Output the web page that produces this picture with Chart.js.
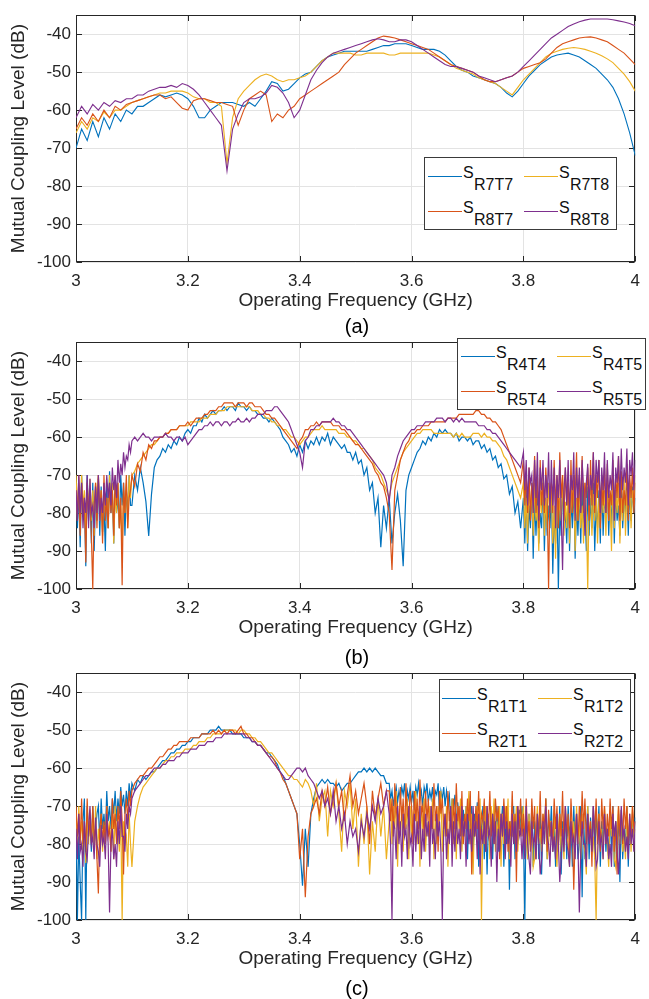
<!DOCTYPE html>
<html><head><meta charset="utf-8">
<script src="https://cdn.jsdelivr.net/npm/chart.js@4.4.1/dist/chart.umd.min.js"></script>
<style>
html,body{margin:0;padding:0;background:#fff;}
body{width:649px;height:999px;position:relative;overflow:hidden;font-family:"Liberation Sans",Arial,sans-serif;color:#262626;}
.cv{position:absolute;left:0;width:649px;height:320px;}
.lab{position:absolute;width:80px;text-align:center;font-family:"Liberation Sans",Arial,sans-serif;font-size:20px;line-height:20px;color:#000;}
.leg{position:absolute;border:1px solid #3a3a3a;background:#fff;box-sizing:border-box;}
.it{position:absolute;width:1px;height:1px;}
.it .ln{position:absolute;left:0;top:0;width:34px;height:1px;}
.it .s{position:absolute;left:35px;top:-11px;font-size:16px;line-height:16px;white-space:nowrap;color:#111;}
.it .sub{position:absolute;left:46px;top:1px;font-size:16px;line-height:16px;white-space:nowrap;color:#111;}
</style></head><body>
<div class="cv" style="top:0"><canvas id="ca" width="649" height="320"></canvas></div>
<div class="cv" style="top:327px"><canvas id="cb" width="649" height="320"></canvas></div>
<div class="cv" style="top:658px"><canvas id="cc" width="649" height="320"></canvas></div>
<div class="lab" style="left:317px;top:316px">(a)</div>
<div class="lab" style="left:317px;top:647px">(b)</div>
<div class="lab" style="left:317px;top:978px">(c)</div>
<script>
// ---------- DATA ----------
const xTicksGHz = [3, 3.2, 3.4, 3.6, 3.8, 4];
const yTicksDB = [-100, -90, -80, -70, -60, -50, -40];

// Panel (a): frequency grid (GHz)
const freqA = [
3,3.01,3.02,3.03,3.04,3.05,3.06,3.07,3.08,3.09,
3.1,3.11,3.12,3.13,3.14,3.15,3.16,3.17,3.18,3.19,
3.2,3.21,3.22,3.23,3.24,3.25,3.26,3.27,3.28,3.29,
3.3,3.31,3.32,3.33,3.34,3.35,3.36,3.37,3.38,3.39,
3.4,3.41,3.42,3.43,3.44,3.45,3.46,3.47,3.48,3.49,
3.5,3.51,3.52,3.53,3.54,3.55,3.56,3.57,3.58,3.59,
3.6,3.61,3.62,3.63,3.64,3.65,3.66,3.67,3.68,3.69,
3.7,3.71,3.72,3.73,3.74,3.75,3.76,3.77,3.78,3.79,
3.8,3.81,3.82,3.83,3.84,3.85,3.86,3.87,3.88,3.89,
3.9,3.91,3.92,3.93,3.94,3.95,3.96,3.97,3.98,3.99,
4];
const labelsA = ["R7T7","R7T8","R8T7","R8T8"];
const sR7T7 = [
-70,-65,-68,-63,-67,-62,-65,-61,-63,-60,
-61,-59,-59,-58,-57,-56,-56.5,-56,-55.5,-56,
-57,-59,-62,-62,-60,-59,-58,-58,-58,-58.5,
-59,-58,-59,-57,-55,-52.5,-53,-55,-54.5,-53,
-51.5,-50.5,-50,-48.5,-47,-46,-45.5,-45,-44.5,-44.5,
-44.5,-44.5,-44.5,-44,-43.5,-43,-43,-42.5,-42.5,-42.5,
-43,-43.5,-44,-44,-44,-44.5,-45.5,-47,-48.5,-49.5,
-50,-51,-51.5,-52,-52.5,-53,-54,-55.5,-56.5,-55,
-53,-51,-49.5,-48,-47,-46,-45.5,-45.2,-45,-45.5,
-46,-47,-48,-49,-50.5,-52,-54,-57,-61,-66,
-72];
const sR7T8 = [
-66,-63,-65,-62,-63,-60.5,-62,-60,-60,-59,
-58,-57.5,-57,-56.5,-56,-55.5,-55.5,-55,-55,-55,
-55.5,-56.5,-57,-57,-58,-58,-59,-74,-62,-57,
-55,-53.5,-52,-51,-50.5,-51,-52,-52.5,-52,-52,
-51.5,-51,-50,-48.5,-47,-46,-45,-45,-45,-45,
-45.5,-45.5,-45,-45,-45,-45,-45.5,-45.5,-45,-45,
-45,-45,-45,-45,-45.5,-46,-47,-48,-49,-49.5,
-50,-50.5,-51.5,-52,-52.5,-53,-54,-55,-56,-54,
-52,-50.5,-49,-47.5,-46,-45,-44.5,-44,-43.7,-43.5,
-43.7,-44,-44.5,-45,-45.7,-46.5,-47.5,-49,-50.5,-52.5,
-55];
const sR8T7 = [
-65,-62,-64,-61,-63,-60,-62,-59,-60,-58.5,
-58,-57.5,-57,-56.5,-56,-56,-57,-56.5,-58,-59.5,
-60,-57.5,-57,-57,-57.5,-58,-58,-58.5,-59,-64,
-60,-57,-56,-55,-56,-63,-61,-62,-60,-59,
-57,-56,-55,-54,-53,-52,-51,-50,-48,-46.5,
-45,-44,-43,-42,-41,-40.5,-40.7,-41,-41.5,-42,
-42.5,-43,-43.5,-44,-45,-46,-47,-48,-48.5,-49,
-49.5,-50,-51,-52,-52.5,-52.5,-52,-51.5,-51,-50,
-49,-48.5,-48,-47.5,-46.5,-45,-43.5,-42.5,-42,-41.5,
-41,-40.8,-40.7,-41,-41.5,-42,-43,-44,-45,-46.5,
-48];
const sR8T8 = [
-62,-59,-61,-58.5,-60,-58,-59,-57.5,-58,-57,
-57,-56,-56,-55,-54.5,-54,-54,-53.5,-54,-53,
-53.5,-54.5,-56,-58,-60,-62,-64,-76,-65,-61,
-58,-57,-57,-56.5,-55.5,-53.5,-54,-55.5,-58,-62,
-60,-56,-52,-49.5,-47.5,-46,-45,-44.5,-44,-43.5,
-43,-42.5,-42,-41.5,-41.2,-41.5,-42,-42,-41.5,-41.5,
-42,-43,-44,-45,-46,-47,-48,-48.5,-48.5,-49,
-49.5,-50,-51,-51.5,-52,-52.5,-52,-51.5,-51,-50,
-48.5,-47,-45.5,-44,-42.5,-41,-40,-39,-38,-37.3,
-36.7,-36.3,-36,-36,-36,-36,-36.2,-36.5,-36.8,-37.2,
-37.8];

// Panel (b): frequency grid (GHz), finer where the traces are noisy
const freqB = [
3,3.0025,3.005,3.0075,3.01,3.0125,3.015,3.0175,3.02,3.0225,
3.025,3.0275,3.03,3.0325,3.035,3.0375,3.04,3.0425,3.045,3.0475,
3.05,3.0525,3.055,3.0575,3.06,3.0625,3.065,3.0675,3.07,3.0725,
3.075,3.0775,3.08,3.0825,3.085,3.0875,3.09,3.0925,3.095,3.0975,
3.1,3.105,3.11,3.115,3.12,3.125,3.13,3.135,3.14,3.145,
3.15,3.155,3.16,3.165,3.17,3.175,3.18,3.185,3.19,3.195,
3.2,3.205,3.21,3.215,3.22,3.225,3.23,3.235,3.24,3.245,
3.25,3.255,3.26,3.265,3.27,3.275,3.28,3.285,3.29,3.295,
3.3,3.305,3.31,3.315,3.32,3.325,3.33,3.335,3.34,3.345,
3.35,3.355,3.36,3.365,3.37,3.375,3.38,3.385,3.39,3.395,
3.4,3.405,3.41,3.415,3.42,3.425,3.43,3.435,3.44,3.445,
3.45,3.455,3.46,3.465,3.47,3.475,3.48,3.485,3.49,3.495,
3.5,3.505,3.51,3.515,3.52,3.525,3.53,3.535,3.54,3.545,
3.55,3.555,3.56,3.565,3.57,3.575,3.58,3.585,3.59,3.595,
3.6,3.605,3.61,3.615,3.62,3.625,3.63,3.635,3.64,3.645,
3.65,3.655,3.66,3.665,3.67,3.675,3.68,3.685,3.69,3.695,
3.7,3.705,3.71,3.715,3.72,3.725,3.73,3.735,3.74,3.745,
3.75,3.755,3.76,3.765,3.77,3.775,3.78,3.785,3.79,3.795,
3.8,3.8025,3.805,3.8075,3.81,3.8125,3.815,3.8175,3.82,3.8225,
3.825,3.8275,3.83,3.8325,3.835,3.8375,3.84,3.8425,3.845,3.8475,
3.85,3.8525,3.855,3.8575,3.86,3.8625,3.865,3.8675,3.87,3.8725,
3.875,3.8775,3.88,3.8825,3.885,3.8875,3.89,3.8925,3.895,3.8975,
3.9,3.9025,3.905,3.9075,3.91,3.9125,3.915,3.9175,3.92,3.9225,
3.925,3.9275,3.93,3.9325,3.935,3.9375,3.94,3.9425,3.945,3.9475,
3.95,3.9525,3.955,3.9575,3.96,3.9625,3.965,3.9675,3.97,3.9725,
3.975,3.9775,3.98,3.9825,3.985,3.9875,3.99,3.9925,3.995,3.9975,
4];

// Panel (c): frequency grid (GHz), finer where the traces are noisy
const freqC = [
3,3.0025,3.005,3.0075,3.01,3.0125,3.015,3.0175,3.02,3.0225,
3.025,3.0275,3.03,3.0325,3.035,3.0375,3.04,3.0425,3.045,3.0475,
3.05,3.0525,3.055,3.0575,3.06,3.0625,3.065,3.0675,3.07,3.0725,
3.075,3.0775,3.08,3.0825,3.085,3.0875,3.09,3.0925,3.095,3.0975,
3.1,3.105,3.11,3.115,3.12,3.125,3.13,3.135,3.14,3.145,
3.15,3.155,3.16,3.165,3.17,3.175,3.18,3.185,3.19,3.195,
3.2,3.205,3.21,3.215,3.22,3.225,3.23,3.235,3.24,3.245,
3.25,3.255,3.26,3.265,3.27,3.275,3.28,3.285,3.29,3.295,
3.3,3.305,3.31,3.315,3.32,3.325,3.33,3.335,3.34,3.345,
3.35,3.355,3.36,3.365,3.37,3.375,3.38,3.385,3.39,3.395,
3.4,3.405,3.41,3.415,3.42,3.425,3.43,3.435,3.44,3.445,
3.45,3.455,3.46,3.465,3.47,3.475,3.48,3.485,3.49,3.495,
3.5,3.505,3.51,3.515,3.52,3.525,3.53,3.535,3.54,3.545,
3.55,3.555,
3.56,3.5625,3.565,3.5675,3.57,3.5725,3.575,3.5775,3.58,3.5825,
3.585,3.5875,3.59,3.5925,3.595,3.5975,3.6,3.6025,3.605,3.6075,
3.61,3.6125,3.615,3.6175,3.62,3.6225,3.625,3.6275,3.63,3.6325,
3.635,3.6375,3.64,3.6425,3.645,3.6475,3.65,3.6525,3.655,3.6575,
3.66,3.6625,3.665,3.6675,3.67,3.6725,3.675,3.6775,3.68,3.6825,
3.685,3.6875,3.69,3.6925,3.695,3.6975,3.7,3.7025,3.705,3.7075,
3.71,3.7125,3.715,3.7175,3.72,3.7225,3.725,3.7275,3.73,3.7325,
3.735,3.7375,3.74,3.7425,3.745,3.7475,3.75,3.7525,3.755,3.7575,
3.76,3.7625,3.765,3.7675,3.77,3.7725,3.775,3.7775,3.78,3.7825,
3.785,3.7875,3.79,3.7925,3.795,3.7975,
3.8,3.8025,3.805,3.8075,3.81,3.8125,3.815,3.8175,3.82,3.8225,
3.825,3.8275,3.83,3.8325,3.835,3.8375,3.84,3.8425,3.845,3.8475,
3.85,3.8525,3.855,3.8575,3.86,3.8625,3.865,3.8675,3.87,3.8725,
3.875,3.8775,3.88,3.8825,3.885,3.8875,3.89,3.8925,3.895,3.8975,
3.9,3.9025,3.905,3.9075,3.91,3.9125,3.915,3.9175,3.92,3.9225,
3.925,3.9275,3.93,3.9325,3.935,3.9375,3.94,3.9425,3.945,3.9475,
3.95,3.9525,3.955,3.9575,3.96,3.9625,3.965,3.9675,3.97,3.9725,
3.975,3.9775,3.98,3.9825,3.985,3.9875,3.99,3.9925,3.995,3.9975,
4];

// Panel (b)
const labelsB = ["R4T4","R4T5","R5T4","R5T5"];
const sR4T4 = [
-72,-84,-74,-89,-70,-80,-76,-94,-70,-82,
-74,-88,-72,-90,-75,-82,-71,-86,-73,-85,
-78,-90,-72,-84,-69,-80,-74,-88,-72,-80,
-76,-84,-70,-78,-72,-86,-74,-80,-70,-78,
-78,-70,-74,-68,-72,-77,-86,-75,-68,-66,
-65,-63,-64,-62,-63,-61,-62,-60,-61,-59,
-58,-59,-57,-57,-55,-56,-54,-55,-54,-53,
-54,-53,-53,-52,-53,-52,-52,-53,-51,-52,
-52,-53,-52,-53,-53,-54,-54,-55,-55,-56,
-55,-56,-57,-58,-60,-61,-62,-64,-63,-65,
-62,-64,-61,-63,-61,-62,-60,-62,-60,-61,
-59,-62,-60,-61,-62,-63,-62,-64,-64,-66,
-64,-67,-66,-70,-68,-74,-72,-80,-76,-89,
-78,-84,-76,-88,-80,-75,-82,-94,-74,-70,
-68,-66,-64,-63,-61,-62,-60,-61,-59,-60,
-58,-59,-58,-59,-59,-60,-59,-61,-60,-60,
-61,-60,-62,-61,-61,-63,-62,-64,-63,-66,
-65,-68,-67,-71,-70,-75,-73,-80,-77,-84,
-76,-88,-74,-90,-78,-84,-72,-92,-76,-86,
-74,-88,-80,-84,-72,-90,-76,-86,-78,-84,
-74,-96,-80,-88,-76,-100,-78,-86,-72,-84,
-80,-88,-74,-90,-76,-84,-72,-92,-78,-86,
-74,-88,-72,-84,-78,-90,-73,-86,-76,-84,
-72,-90,-78,-84,-74,-88,-70,-86,-76,-80,
-72,-86,-75,-84,-70,-88,-74,-82,-78,-86,
-71,-84,-76,-80,-72,-86,-74,-82,-73,-80,
-76];
const sR4T5 = [
-70,-80,-72,-84,-70,-78,-74,-84,-72,-80,
-71,-82,-74,-86,-72,-76,-70,-82,-74,-86,
-72,-80,-76,-84,-70,-78,-72,-88,-75,-80,
-72,-84,-78,-90,-74,-80,-72,-84,-70,-76,
-70,-69,-67,-66,-65,-64,-63,-62,-62,-61,
-60,-60,-59,-59,-58,-58,-58,-57,-57,-57,
-57,-56,-56,-56,-56,-55,-55,-55,-54,-54,
-54,-53,-53,-53,-52,-52,-52,-52,-52,-52,
-52,-52,-52,-53,-53,-53,-54,-54,-55,-55,
-56,-56,-57,-57,-58,-58,-59,-60,-60,-61,
-62,-61,-60,-60,-59,-58,-58,-58,-57,-58,
-58,-58,-58,-58,-59,-59,-59,-60,-60,-61,
-61,-62,-63,-63,-64,-65,-66,-68,-69,-70,
-72,-74,-76,-72,-70,-68,-66,-64,-63,-62,
-61,-60,-59,-59,-58,-58,-58,-58,-59,-59,
-59,-59,-59,-59,-59,-60,-59,-60,-59,-60,
-60,-60,-59,-59,-59,-60,-59,-60,-60,-61,
-61,-62,-63,-65,-66,-68,-70,-72,-74,-76,
-72,-84,-76,-88,-70,-80,-74,-86,-72,-82,
-78,-90,-74,-80,-70,-86,-76,-84,-72,-80,
-74,-88,-78,-92,-72,-84,-76,-82,-70,-86,
-77,-84,-72,-88,-74,-80,-70,-90,-76,-82,
-74,-84,-78,-88,-72,-80,-100,-76,-73,-86,
-75,-82,-72,-88,-76,-84,-70,-80,-74,-86,
-72,-82,-76,-90,-70,-84,-74,-80,-72,-88,
-76,-82,-70,-86,-74,-80,-72,-84,-74,-78,
-70];
const sR5T4 = [
-74,-82,-70,-86,-72,-80,-76,-93,-72,-80,
-74,-86,-100,-78,-72,-84,-70,-80,-74,-88,
-70,-82,-76,-84,-72,-80,-74,-86,-70,-78,
-72,-84,-76,-99,-72,-80,-70,-84,-76,-74,
-70,-73,-67,-69,-64,-66,-62,-63,-61,-61,
-60,-60,-59,-59,-58,-58,-58,-57,-57,-57,
-56,-57,-56,-55,-55,-55,-54,-54,-53,-53,
-53,-52,-52,-51,-51,-51,-51,-52,-51,-51,
-51,-52,-51,-51,-52,-52,-52,-53,-54,-54,
-55,-55,-56,-57,-58,-59,-60,-61,-62,-63,
-61,-60,-58,-58,-57,-57,-56,-57,-56,-56,
-56,-56,-57,-57,-57,-58,-58,-59,-60,-61,
-62,-62,-63,-64,-65,-66,-67,-69,-70,-72,
-73,-76,-80,-95,-74,-70,-66,-64,-62,-61,
-59,-59,-58,-58,-57,-57,-57,-56,-56,-56,
-56,-56,-56,-55,-55,-55,-55,-54,-54,-54,
-54,-54,-54,-53,-53,-54,-54,-55,-55,-56,
-56,-57,-58,-60,-62,-64,-66,-68,-70,-72,
-66,-78,-70,-80,-68,-82,-72,-76,-65,-80,
-70,-84,-66,-78,-72,-80,-68,-76,-100,-74,
-72,-80,-66,-78,-70,-84,-64,-76,-70,-82,
-68,-78,-72,-84,-66,-80,-70,-76,-64,-82,
-70,-78,-65,-80,-72,-76,-68,-82,-66,-78,
-64,-80,-70,-76,-66,-84,-72,-78,-68,-80,
-67,-82,-74,-78,-66,-80,-70,-76,-65,-82,
-69,-80,-74,-78,-67,-82,-70,-76,-68,-80,
-72];
const sR5T5 = [
-74,-82,-70,-80,-72,-84,-76,-80,-70,-84,
-71,-80,-78,-84,-73,-80,-70,-82,-76,-80,
-72,-78,-70,-76,-72,-78,-68,-74,-70,-76,
-66,-72,-67,-70,-64,-68,-65,-66,-62,-64,
-61,-60,-61,-60,-59,-60,-60,-61,-60,-60,
-60,-60,-59,-60,-60,-61,-60,-60,-61,-60,
-62,-61,-60,-59,-58,-58,-57,-57,-56,-57,
-56,-56,-57,-56,-56,-57,-56,-56,-55,-56,
-56,-55,-56,-55,-55,-54,-54,-54,-53,-53,
-53,-52,-52,-53,-54,-55,-56,-58,-60,-62,
-64,-68,-61,-60,-58,-58,-57,-57,-56,-56,
-56,-56,-55,-56,-56,-57,-57,-58,-58,-59,
-60,-61,-62,-63,-64,-65,-66,-67,-68,-69,
-70,-72,-77,-70,-68,-65,-63,-61,-60,-59,
-58,-58,-57,-57,-57,-56,-56,-56,-56,-55,
-55,-55,-56,-55,-55,-56,-55,-56,-55,-56,
-56,-56,-56,-56,-57,-57,-57,-58,-58,-59,
-59,-60,-61,-62,-63,-64,-65,-66,-67,-68,
-64,-74,-66,-78,-68,-72,-70,-80,-66,-76,
-64,-82,-68,-74,-66,-78,-70,-76,-64,-80,
-66,-78,-68,-84,-70,-76,-66,-80,-95,-74,
-68,-78,-66,-80,-70,-74,-64,-82,-68,-76,
-68,-80,-66,-74,-86,-72,-67,-78,-70,-74,
-64,-78,-66,-72,-66,-80,-68,-74,-64,-80,
-66,-76,-70,-74,-64,-82,-68,-72,-65,-76,
-63,-74,-68,-72,-63,-78,-66,-70,-64,-74,
-66];

// Panel (c)
const labelsC = ["R1T1","R1T2","R2T1","R2T2"];
const sR1T1 = [
-72,-100,-78,-90,-100,-74,-68,-100,-70,-78,
-74,-82,-70,-80,-76,-72,-70,-80,-68,-76,
-72,-78,-66,-74,-70,-76,-68,-72,-66,-74,
-68,-72,-65,-70,-67,-72,-66,-70,-64,-68,
-64,-66,-63,-64,-62,-63,-62,-61,-61,-60,
-59,-58,-58,-57,-56,-56,-55,-55,-54,-54,
-53,-53,-52,-52,-52,-51,-51,-51,-50,-50,
-50,-49,-50,-50,-50,-50,-51,-51,-51,-51,
-52,-52,-52,-53,-53,-54,-54,-55,-56,-56,
-57,-58,-59,-61,-62,-64,-66,-68,-70,-72,
-80,-91,-76,-86,-72,-68,-65,-64,-63,-64,
-63,-64,-64,-65,-64,-66,-65,-64,-64,-63,
-62,-61,-61,-60,-61,-60,-61,-60,-61,-62,
-62,-64,
-64,-68,-66,-70,-67,-65,-69,-66,-68,-65,
-67,-64,-70,-66,-68,-65,-69,-66,-71,-65,
-67,-64,-68,-66,-70,-65,-67,-64,-69,-66,
-68,-65,-70,-66,-67,-64,-72,-66,-68,-65,
-70,-66,-69,-67,-74,-68,-71,-67,-76,-69,
-73,-70,-80,-71,-76,-70,-84,-72,-78,-70,
-82,-72,-76,-69,-86,-73,-78,-70,-84,-72,
-88,-74,-80,-71,-84,-72,-78,-70,-82,-73,
-76,-70,-86,-74,-80,-72,-92,-74,-78,-70,
-84,-72,-80,-71,-76,-70,
-76,-100,-70,-84,-72,-80,-70,-86,-74,-80,
-72,-84,-70,-88,-74,-80,-68,-84,-72,-78,
-70,-82,-74,-86,-72,-80,-70,-88,-74,-80,
-72,-84,-70,-78,-74,-86,-70,-80,-72,-84,
-80,-70,-94,-72,-84,-76,-70,-84,-73,-80,
-70,-84,-72,-78,-70,-86,-74,-80,-72,-82,
-76,-84,-72,-82,-70,-86,-74,-80,-72,-90,
-71,-84,-76,-80,-70,-86,-74,-80,-72,-78,
-73];
const sR1T2 = [
-72,-80,-70,-78,-74,-82,-76,-85,-72,-80,
-71,-78,-74,-82,-70,-84,-76,-80,-72,-82,
-75,-80,-70,-78,-74,-82,-72,-84,-70,-78,
-76,-82,-72,-100,-74,-80,-78,-86,-72,-80,
-86,-74,-70,-67,-65,-64,-63,-62,-61,-60,
-60,-59,-58,-58,-57,-57,-56,-56,-56,-55,
-55,-55,-54,-54,-53,-53,-53,-52,-52,-51,
-51,-51,-51,-50,-50,-50,-50,-50,-51,-50,
-50,-51,-51,-52,-52,-53,-53,-54,-55,-56,
-56,-57,-58,-59,-60,-61,-62,-62,-63,-63,
-64,-65,-63,-64,-66,-70,-64,-74,-68,-66,
-78,-66,-70,-64,-72,-82,-66,-70,-64,-76,
-68,-86,-72,-80,-70,-88,-74,-82,-68,-78,
-70,-84,
-74,-68,-80,-70,-76,-66,-86,-72,-78,-70,
-82,-72,-76,-68,-84,-70,-78,-72,-74,-66,
-80,-72,-86,-70,-76,-68,-82,-74,-78,-70,
-76,-68,-84,-72,-80,-70,-74,-66,-82,-72,
-78,-70,-86,-74,-76,-68,-80,-72,-84,-70,
-76,-68,-82,-74,-78,-70,-74,-66,-80,-72,
-88,-74,-78,-70,-76,-68,-100,-74,-80,-70,
-78,-72,-84,-70,-76,-68,-82,-74,-78,-70,
-86,-72,-80,-70,-76,-68,-84,-74,-78,-72,
-76,-70,-82,-72,-78,-74,
-70,-80,-78,-84,-72,-80,-74,-86,-84,-76,
-70,-80,-76,-82,-72,-80,-68,-84,-80,-74,
-74,-82,-71,-80,-86,-76,-72,-82,-76,-84,
-70,-78,-80,-86,-73,-80,-74,-82,-70,-78,
-76,-84,-72,-80,-82,-88,-70,-78,-74,-82,
-78,-84,-100,-76,-72,-80,-76,-84,-70,-78,
-80,-86,-72,-78,-74,-84,-86,-76,-70,-80,
-72,-82,-78,-84,-70,-78,-74,-82,-70,-78,
-76];
const sR2T1 = [
-70,-78,-72,-80,-68,-80,-74,-82,-68,-78,
-74,-80,-70,-78,-76,-84,-93,-76,-72,-80,
-74,-80,-70,-78,-76,-82,-68,-76,-72,-80,
-70,-76,-66,-74,-88,-72,-68,-74,-66,-70,
-66,-64,-63,-62,-62,-61,-60,-60,-59,-58,
-57,-57,-56,-55,-55,-54,-54,-53,-53,-53,
-53,-52,-52,-52,-52,-51,-51,-51,-51,-50,
-51,-50,-51,-50,-51,-50,-50,-51,-50,-49,
-51,-51,-52,-52,-53,-54,-54,-55,-56,-57,
-57,-58,-60,-61,-63,-64,-66,-68,-70,-72,
-84,-76,-94,-78,-72,-70,-68,-72,-66,-70,
-65,-72,-68,-64,-70,-66,-74,-67,-62,-70,
-66,-72,-68,-64,-70,-80,-66,-73,-68,-64,
-70,-66,
-66,-74,-68,-78,-64,-72,-70,-76,-65,-74,
-68,-78,-64,-72,-74,-66,-70,-80,-66,-74,
-68,-76,-63,-72,-70,-78,-66,-74,-68,-80,
-70,-76,-64,-74,-70,-82,-66,-72,-68,-76,
-72,-78,-66,-74,-70,-80,-68,-76,-64,-74,
-70,-78,-66,-80,-72,-76,-68,-74,-66,-88,
-72,-78,-70,-76,-66,-80,-72,-74,-68,-82,
-70,-76,-66,-78,-72,-80,-68,-74,-70,-84,
-72,-78,-68,-76,-70,-82,-74,-78,-66,-80,
-72,-90,-70,-76,-68,-78,
-72,-80,-68,-78,-74,-82,-68,-76,-70,-84,
-72,-78,-66,-80,-72,-76,-68,-82,-71,-78,
-74,-80,-68,-76,-70,-82,-72,-78,-66,-80,
-70,-78,-72,-84,-68,-76,-92,-78,-72,-80,
-70,-78,-66,-76,-68,-80,-72,-78,-74,-86,
-70,-78,-68,-80,-72,-82,-68,-76,-70,-80,
-72,-78,-68,-76,-70,-82,-74,-88,-70,-78,
-71,-80,-68,-76,-70,-82,-72,-78,-70,-76,
-74];
const sR2T2 = [
-76,-84,-72,-82,-80,-86,-74,-82,-84,-76,
-70,-80,-78,-84,-73,-80,-82,-86,-75,-80,
-78,-84,-72,-80,-98,-80,-76,-84,-80,-86,
-74,-80,-70,-78,-78,-82,-72,-76,-70,-72,
-68,-66,-65,-64,-63,-62,-62,-61,-60,-60,
-60,-59,-59,-58,-58,-58,-57,-57,-56,-56,
-56,-55,-55,-55,-54,-54,-54,-53,-53,-53,
-52,-52,-52,-51,-51,-51,-51,-51,-51,-51,
-51,-52,-52,-53,-53,-54,-54,-55,-56,-57,
-58,-59,-60,-61,-62,-63,-63,-62,-61,-60,
-60,-61,-60,-62,-63,-64,-66,-68,-66,-70,
-68,-72,-66,-74,-70,-76,-72,-80,-74,-78,
-76,-82,-74,-78,-72,-76,-70,-74,-68,-72,
-70,-66,
-72,-80,-100,-74,-76,-84,-70,-80,-74,-86,
-72,-78,-76,-84,-70,-80,-78,-86,-72,-82,
-74,-80,-70,-84,-76,-82,-72,-78,-74,-86,
-70,-80,-76,-84,-72,-78,-74,-82,-100,-76,
-72,-84,-76,-80,-70,-86,-74,-82,-72,-80,
-76,-84,-70,-78,-74,-86,-72,-80,-76,-82,
-70,-78,-74,-84,-72,-88,-76,-80,-74,-82,
-70,-78,-76,-86,-72,-80,-74,-90,-76,-82,
-72,-78,-70,-84,-74,-80,-76,-86,-72,-80,
-74,-82,-70,-78,-76,-84,
-76,-84,-70,-80,-84,-88,-74,-80,-78,-84,
-72,-80,-88,-84,-74,-80,-70,-78,-80,-86,
-74,-82,-78,-84,-72,-80,-90,-84,-76,-82,
-70,-80,-82,-86,-74,-80,-78,-84,-72,-80,
-98,-82,-74,-80,-80,-86,-72,-80,-76,-82,
-70,-78,-86,-84,-74,-80,-78,-84,-72,-80,
-76,-84,-80,-86,-72,-78,-74,-82,-88,-80,
-70,-78,-76,-82,-78,-84,-72,-80,-76,-82,
-74];

// ---------- STYLE ----------
const COLORS = {blue:'#0072BD', yellow:'#EDB120', red:'#D95319', purple:'#7E2F8E'};
const AX = '#262626';
const GRID = '#e3e3e3';

const framePlugin = {
  id:'frame',
  beforeDatasetsDraw(chart){
    const {ctx, chartArea:a, scales:{x,y}} = chart;
    ctx.save();
    ctx.strokeStyle = AX; ctx.lineWidth = 1;
    const L = Math.round(a.left)+0.5, R = Math.round(a.right)-0.5, T = Math.round(a.top)+0.5, B = Math.round(a.bottom)-0.5;
    const tl = 5.5;
    ctx.beginPath();
    x.ticks.forEach(t=>{const p=Math.round(x.getPixelForValue(t.value))+0.5; ctx.moveTo(p,B); ctx.lineTo(p,B-tl); ctx.moveTo(p,T); ctx.lineTo(p,T+tl);});
    y.ticks.forEach(t=>{const p=Math.round(y.getPixelForValue(t.value))+0.5; ctx.moveTo(L,p); ctx.lineTo(L+tl,p); ctx.moveTo(R,p); ctx.lineTo(R-tl,p);});
    ctx.stroke();
    ctx.strokeRect(L,T,R-L,B-T);
    ctx.restore();
  }
};

function ds(label, freq, vals, color, order, lw){
  return {label, data: freq.map((f,i)=>({x:f, y:vals[i]})), borderColor:color, backgroundColor:color,
    borderWidth:lw, pointRadius:0, fill:false, tension:0, order};
}

function makeChart(id, freq, series, lw){
  const [b,yl,r,p] = series;
  new Chart(document.getElementById(id), {
    type:'line',
    data:{datasets:[
      ds('b', freq, b, COLORS.blue, 4, lw),
      ds('y', freq, yl, COLORS.yellow, 3, lw),
      ds('r', freq, r, COLORS.red, 2, lw),
      ds('p', freq, p, COLORS.purple, 1, lw)
    ]},
    options:{
      responsive:false, animation:false, events:[],
      layout:{padding:{top:13,right:9,left:0,bottom:0}},
      plugins:{legend:{display:false}, tooltip:{enabled:false}},
      scales:{
        x:{type:'linear', min:3, max:4,
          afterBuildTicks(s){ s.ticks = xTicksGHz.map(v=>({value:v})); },
          ticks:{autoSkip:false, maxRotation:0, padding:9, color:AX,
            font:{family:'Liberation Sans', size:17},
            callback:v=>String(+(+v).toFixed(1))},
          grid:{color:GRID, drawTicks:false}, border:{display:false},
          title:{display:true, text:'Operating Frequency (GHz)', color:AX,
            font:{family:'Liberation Sans', size:19}, padding:{top:0,bottom:8}},
          afterFit(s){ s.height = 58; }
        },
        y:{type:'linear', min:-100, max:-35,
          afterBuildTicks(s){ s.ticks = yTicksDB.map(v=>({value:v})); },
          ticks:{padding:5, color:AX, font:{family:'Liberation Sans', size:17}},
          grid:{color:GRID, drawTicks:false}, border:{display:false},
          title:{display:true, text:'Mutual Coupling Level (dB)', color:AX,
            font:{family:'Liberation Sans', size:19}, padding:{top:7,bottom:0}},
          afterFit(s){ s.width = 76; }
        }
      }
    },
    plugins:[framePlugin]
  });
}

makeChart('ca', freqA, [sR7T7, sR7T8, sR8T7, sR8T8], 1.1);
makeChart('cb', freqB, [sR4T4, sR4T5, sR5T4, sR5T5], 1.2);
makeChart('cc', freqC, [sR1T1, sR1T2, sR2T1, sR2T2], 1.2);

// ---------- LEGENDS (HTML, subscripts) ----------
const legColors = [COLORS.blue, COLORS.yellow, COLORS.red, COLORS.purple];
function buildLegend(box, colX, rowY, labels){
  const d = document.createElement('div');
  d.className = 'leg';
  d.style.left = box[0]+'px'; d.style.top = box[1]+'px';
  d.style.width = box[2]+'px'; d.style.height = box[3]+'px';
  document.body.appendChild(d);
  labels.forEach((lab,i)=>{
    const it = document.createElement('div');
    it.className = 'it';
    it.style.left = colX[i%2]+'px';
    it.style.top = rowY[Math.floor(i/2)]+'px';
    it.innerHTML = '<span class="ln" style="background:'+legColors[i]+'"></span><span class="s">S</span><span class="sub">'+lab+'</span>';
    document.body.appendChild(it);
  });
}
buildLegend([424,157,193,73],[428,524],[176,211],labelsA);
buildLegend([457,338,189,72],[461,557],[356,391],labelsB);
buildLegend([439,679,192,73],[442,538],[698,733],labelsC);
</script>
</body></html>
